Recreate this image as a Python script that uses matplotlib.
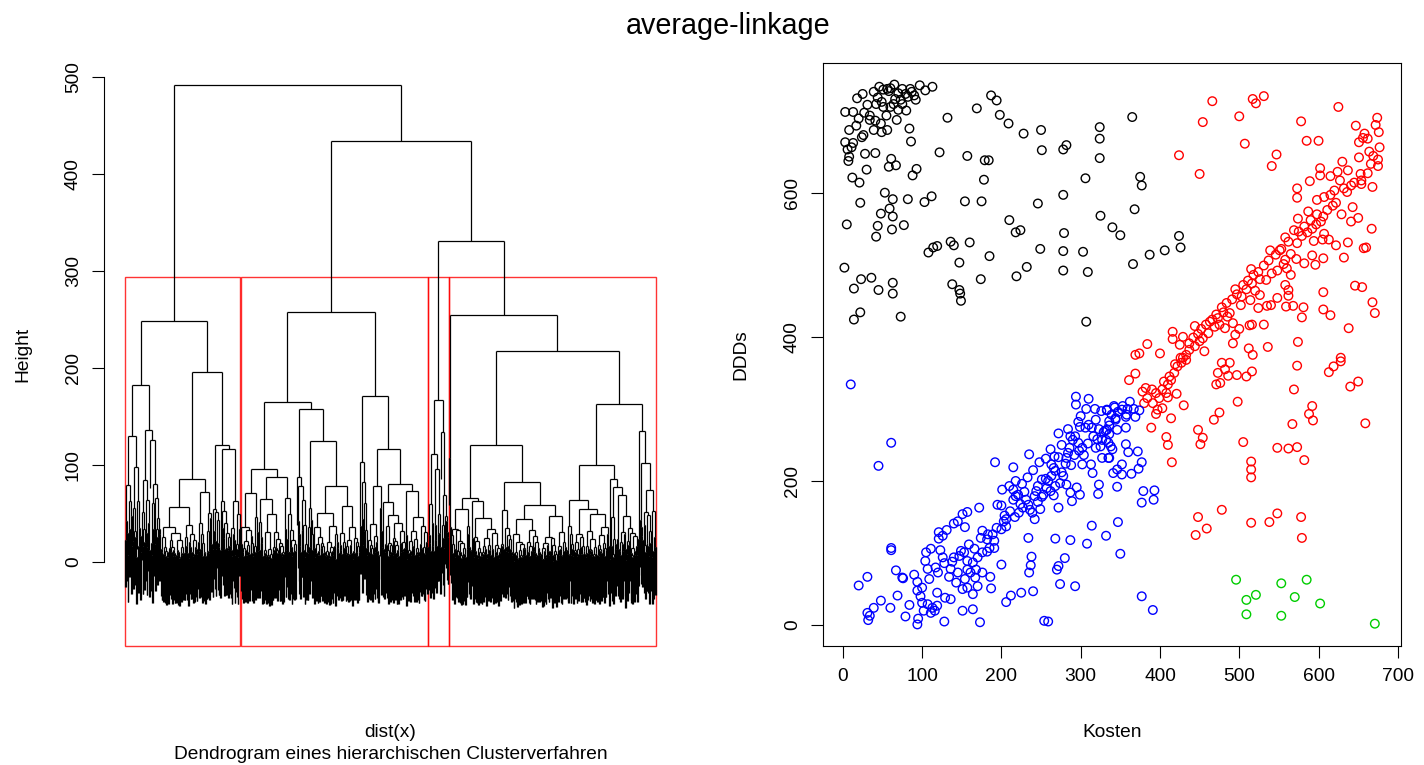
#!/usr/bin/env python3
"""
average-linkage: Dendrogramm (hclust, average) und Streudiagramm Kosten vs. DDDs
"""

import numpy as np
import matplotlib
matplotlib.use("Agg")
import matplotlib.pyplot as plt
from matplotlib.collections import LineCollection
from matplotlib.patches import Rectangle

plt.rcParams['font.family'] = ['Liberation Sans', 'DejaVu Sans']

# (Kosten, DDDs) pro Cluster
cluster_black = [
    (46, 747), (56, 744), (65, 750), (75, 744), (85, 744), (97, 749), (113, 747), (39, 740),
    (25, 737), (18, 731), (51, 743), (58, 741), (70, 738), (79, 737), (87, 740), (82, 733),
    (92, 729), (73, 729), (64, 723), (75, 723), (80, 714), (70, 715), (60, 719), (51, 719),
    (42, 723), (49, 726), (3, 712), (13, 712), (27, 711), (34, 701), (34, 707), (41, 700),
    (48, 696), (55, 707), (68, 701), (17, 693), (8, 687), (3, 670), (13, 669), (24, 677),
    (26, 680), (11, 663), (39, 687), (49, 684), (56, 687), (84, 689), (86, 671), (6, 660),
    (8, 650), (7, 644), (28, 654), (41, 655), (61, 647), (58, 636), (67, 638), (30, 632),
    (93, 633), (88, 624), (12, 621), (21, 614), (122, 656), (132, 704), (169, 717), (187, 735),
    (194, 728), (198, 708), (209, 696), (228, 682), (250, 687), (157, 651), (179, 645), (184, 645),
    (251, 659), (278, 660), (282, 666), (324, 691), (324, 675), (324, 648), (306, 620), (178, 618),
    (53, 600), (63, 591), (59, 578), (48, 571), (22, 586), (82, 591), (103, 587), (112, 595),
    (154, 588), (175, 588), (246, 585), (278, 597), (5, 556), (44, 554), (42, 539), (62, 549),
    (77, 555), (63, 567), (210, 562), (218, 545), (224, 548), (279, 544), (325, 568), (340, 552),
    (350, 541), (249, 522), (278, 519), (303, 518), (108, 517), (114, 524), (119, 526), (136, 532),
    (140, 527), (160, 531), (185, 512), (147, 503), (232, 497), (219, 484), (278, 492), (309, 490),
    (2, 496), (23, 480), (36, 482), (14, 467), (45, 465), (63, 475), (63, 460), (138, 473),
    (147, 465), (148, 460), (149, 450), (174, 480), (14, 424), (22, 434), (73, 428), (307, 421),
    (365, 705), (375, 622), (377, 610), (368, 577), (424, 540), (426, 524), (387, 514), (406, 520),
    (366, 501), (60, 745), (44, 732), (66, 730), (31, 722), (20, 703), (90, 735), (104, 742),
]

cluster_red = [
    (466, 727), (517, 730), (521, 724), (531, 734), (500, 706), (454, 698), (625, 719), (578, 699),
    (647, 693), (674, 704), (672, 694), (676, 684), (658, 682), (656, 676), (662, 675), (651, 670),
    (585, 672), (600, 672), (507, 668), (424, 652), (547, 653), (541, 637), (450, 626), (677, 663),
    (664, 657), (651, 649), (675, 646), (666, 640), (675, 637), (630, 643), (637, 631), (624, 629),
    (602, 634), (602, 624), (589, 616), (615, 623), (627, 617), (641, 610), (654, 617), (662, 627),
    (668, 608), (654, 612), (620, 603), (632, 606), (615, 597), (607, 594), (573, 606), (573, 593),
    (598, 590), (618, 582), (587, 574), (598, 570), (606, 567), (629, 570), (643, 580), (650, 565),
    (641, 560), (667, 550), (574, 564), (582, 553), (590, 562), (592, 550), (603, 560), (575, 546),
    (594, 533), (607, 543), (613, 535), (622, 527), (637, 531), (657, 523), (660, 524), (569, 548),
    (558, 538), (573, 530), (562, 532), (605, 535), (632, 510), (592, 513), (606, 509), (582, 502),
    (596, 500), (539, 520), (551, 520), (565, 515), (558, 507), (572, 508), (548, 492), (556, 501),
    (560, 495), (565, 486), (541, 488), (534, 479), (526, 480), (515, 494), (516, 474), (509, 466),
    (520, 464), (526, 458), (514, 451), (503, 456), (495, 466), (502, 444), (488, 433), (480, 434),
    (473, 426), (469, 414), (463, 421), (461, 405), (454, 398), (450, 394), (444, 387), (437, 382),
    (433, 375), (429, 371), (444, 415), (416, 407), (429, 400), (425, 389), (416, 397), (384, 390),
    (369, 375), (374, 377), (400, 377), (456, 380), (475, 417), (485, 428), (482, 412), (492, 419),
    (495, 403), (492, 391), (500, 411), (513, 416), (516, 417), (531, 417), (512, 384), (517, 375),
    (536, 386), (574, 393), (581, 441), (579, 427), (606, 462), (606, 438), (615, 430), (638, 412),
    (646, 471), (655, 469), (668, 448), (671, 433), (540, 444), (548, 454), (562, 457), (559, 442),
    (568, 443), (558, 472), (562, 465), (535, 443), (524, 440), (628, 371),
    (361, 340), (369, 349), (378, 324), (382, 329), (390, 327), (395, 322), (384, 315), (380, 308),
    (391, 308), (399, 315), (403, 327), (410, 334), (414, 340), (418, 350), (422, 359), (427, 364),
    (433, 368), (408, 322), (410, 316), (421, 321), (397, 299), (403, 301), (395, 293), (389, 274),
    (414, 287), (408, 261), (410, 250), (415, 226), (430, 305), (448, 271), (454, 260), (451, 251),
    (468, 285), (475, 295), (498, 310), (471, 334), (476, 336), (473, 350), (478, 364), (488, 364),
    (482, 355), (486, 346), (497, 347), (509, 345), (516, 352), (505, 254), (515, 227), (515, 216),
    (515, 205), (548, 246), (562, 245), (573, 247), (582, 229), (567, 279), (569, 327), (573, 360),
    (588, 293), (592, 304), (593, 284), (613, 351), (619, 359), (628, 366), (640, 331), (650, 338),
    (659, 280), (478, 160), (448, 150), (459, 134), (445, 125), (515, 142), (538, 143), (548, 155),
    (578, 150), (579, 121),
    (437, 391), (442, 399), (448, 404), (452, 411), (458, 417), (466, 424), (471, 431), (478, 441),
    (484, 447), (491, 452), (497, 459), (505, 472), (511, 478), (518, 486), (524, 490), (531, 499),
    (537, 506), (546, 514), (553, 522), (579, 540), (586, 545), (597, 556), (611, 576), (622, 586),
    (636, 601), (645, 614), (653, 626), (669, 651), (412, 345), (405, 338), (426, 371), (419, 362),
]

cluster_green = [
    (496, 63), (553, 58), (585, 63), (509, 35), (521, 42), (570, 39), (602, 30), (509, 15),
    (553, 13), (671, 2),
]

cluster_blue = [
    (10, 334), (61, 253), (45, 221), (61, 107), (61, 104), (67, 76), (75, 66), (76, 65),
    (69, 41), (31, 67), (20, 55), (48, 34), (39, 24), (31, 17), (34, 13), (32, 7),
    (60, 24), (79, 12), (84, 28), (90, 70), (94, 60), (94, 48), (100, 52), (98, 40),
    (100, 31), (95, 9), (94, 1), (102, 20), (107, 29), (111, 17), (116, 20), (119, 45),
    (129, 38), (136, 36), (128, 5), (105, 101), (104, 89), (107, 78), (117, 80), (109, 64),
    (111, 106), (123, 104), (121, 120), (126, 124), (131, 132), (121, 129), (128, 86), (136, 78),
    (134, 67), (140, 94), (147, 96), (154, 136), (151, 154), (157, 157), (140, 141), (145, 144),
    (172, 163), (159, 112), (166, 106), (153, 101), (157, 89), (164, 87), (170, 94), (176, 101),
    (182, 102), (145, 73), (143, 59), (154, 64), (161, 73), (167, 66), (170, 54), (164, 43),
    (151, 50), (157, 52), (176, 73), (186, 67), (187, 51), (173, 4), (164, 22), (151, 20),
    (176, 131), (182, 119), (189, 126), (194, 135), (200, 133), (206, 137), (191, 117), (191, 107),
    (200, 84), (203, 144), (206, 147), (200, 166), (195, 167), (201, 188), (210, 193), (215, 188),
    (218, 179), (215, 174), (221, 181), (215, 219), (192, 226), (212, 41), (206, 32), (225, 45),
    (240, 47), (234, 121), (238, 95), (237, 83), (235, 73), (222, 156), (227, 163), (234, 167),
    (239, 156), (242, 147), (246, 171), (249, 161), (253, 181), (246, 193), (251, 202), (256, 203),
    (259, 200), (263, 207), (266, 218), (263, 223), (267, 234), (272, 233), (282, 232), (284, 239),
    (290, 257), (293, 262), (299, 275), (306, 274), (297, 253), (302, 246), (302, 223), (313, 223),
    (315, 211), (323, 195), (322, 182), (332, 124), (314, 138), (308, 113), (287, 118), (268, 120),
    (280, 93), (272, 82), (270, 77), (274, 57), (293, 54), (254, 6), (259, 5), (272, 163),
    (266, 180), (268, 193), (282, 195), (287, 184), (289, 172), (295, 191), (299, 181), (278, 207),
    (274, 197), (235, 237), (229, 185), (242, 179), (314, 274), (319, 285), (326, 297), (333, 299),
    (342, 304), (323, 272), (331, 270), (336, 277), (344, 285), (327, 257), (335, 253), (340, 244),
    (325, 248), (319, 246), (310, 278), (327, 232), (335, 232), (294, 317), (294, 306), (310, 314),
    (287, 262), (126, 94), (138, 88), (149, 103), (157, 77), (168, 77), (183, 126), (185, 107),
    (174, 121), (120, 73), (119, 27), (113, 24),
    (362, 310), (374, 298), (367, 300), (359, 300), (352, 299), (343, 302), (333, 298), (344, 287),
    (357, 289), (369, 289), (336, 283), (357, 274), (346, 271), (333, 271), (336, 265), (332, 257),
    (338, 248), (357, 251), (360, 240), (372, 241), (336, 232), (352, 223), (377, 226), (373, 217),
    (364, 210), (352, 209), (341, 211), (346, 216), (346, 192), (379, 186), (393, 187), (392, 174),
    (377, 170), (347, 143), (350, 99), (377, 40), (391, 21),
    (204, 152), (211, 158), (217, 150), (224, 168), (231, 174), (236, 160), (244, 186), (251, 178),
    (257, 190), (262, 186), (268, 214), (276, 212), (281, 224), (288, 222), (292, 236), (298, 242),
    (304, 236), (309, 252), (316, 262), (321, 258), (329, 268), (339, 292), (347, 296), (353, 304),
    (358, 292), (262, 244), (276, 250), (286, 246), (248, 226), (240, 215), (256, 231), (272, 266),
    (284, 272), (300, 290), (307, 300), (318, 300), (297, 282), (233, 205), (226, 196), (218, 200),
]

cluster_colors = ["black", "red", "#00CD00", "blue"]

W, H = 1424, 765


def average_linkage(X):
    """UPGMA wie hclust(method='average'); liefert (a, b, hoehe) je Schritt."""
    n = len(X)
    D = np.sqrt(((X[:, None, :] - X[None, :, :]) ** 2).sum(-1))
    np.fill_diagonal(D, np.inf)
    size = np.ones(n)
    node = np.arange(n)
    merges = []
    for step in range(n - 1):
        i, j = divmod(int(np.argmin(D)), n)
        if i > j:
            i, j = j, i
        merges.append((node[i], node[j], D[i, j]))
        new = (size[i] * D[i] + size[j] * D[j]) / (size[i] + size[j])
        D[i, :] = new
        D[:, i] = new
        D[i, i] = np.inf
        D[j, :] = np.inf
        D[:, j] = np.inf
        size[i] += size[j]
        node[i] = n + step
    return merges


def px_axes(fig, x0, y0, x1, y1):
    return fig.add_axes([x0 / W, 1 - y1 / H, (x1 - x0) / W, (y1 - y0) / H])


groups = [cluster_black, cluster_red, cluster_green, cluster_blue]
X = np.array([p for g in groups for p in g], dtype=float)
point_colors = [c for g, c in zip(groups, cluster_colors) for _ in g]
n = len(X)

merges = average_linkage(X)
heights = np.array([m[2] for m in merges])
hang = 0.1 * (heights.max() - heights.min())

left, right = {}, {}
for s, (a, b, h) in enumerate(merges):
    left[n + s], right[n + s] = min(a, b), max(a, b)

# Blattreihenfolge
order = []
stack = [2 * n - 2]
while stack:
    v = stack.pop()
    if v < n:
        order.append(v)
    else:
        stack.append(right[v])
        stack.append(left[v])

xpos = np.zeros(2 * n - 1)
xpos[np.array(order)] = np.arange(1, n + 1)
lo = xpos.copy()
hi = xpos.copy()
for s in range(n - 1):
    v = n + s
    xpos[v] = (xpos[left[v]] + xpos[right[v]]) / 2
    lo[v] = min(lo[left[v]], lo[right[v]])
    hi[v] = max(hi[left[v]], hi[right[v]])

segs = []
for s, (a, b, h) in enumerate(merges):
    v = n + s
    for c in (left[v], right[v]):
        yc = heights[c - n] if c >= n else h - hang
        segs.append([(xpos[c], yc), (xpos[c], h)])
    segs.append([(xpos[left[v]], h), (xpos[right[v]], h)])

# rect.hclust(k = 4)
k = 4
top = set(range(2 * n - k, 2 * n - 1))
cut_nodes = [c for v in top for c in (left[v], right[v]) if c not in top]
hs = np.sort(heights)[::-1]
cut_h = (hs[k - 2] + hs[k - 1]) / 2

fig = plt.figure(figsize=(W / 100, H / 100), dpi=100)

# --- Dendrogramm ---
ax1 = px_axes(fig, 104, 63, 677, 646)
ax1.add_collection(LineCollection(segs, colors="black", linewidths=0.9))
ext = 0.04 * (n - 1)
ax1.set_xlim(1 - ext, n + ext)
y_bottom = -87
ax1.set_ylim(y_bottom, 514.3)
for c in cut_nodes:
    ax1.add_patch(Rectangle((lo[c] - 0.34, y_bottom), hi[c] - lo[c] + 0.67, cut_h - y_bottom,
                            fill=False, edgecolor=(1, 0, 0, 0.8), linewidth=1.0, clip_on=False))
for side in ("top", "right", "bottom"):
    ax1.spines[side].set_visible(False)
ax1.spines["left"].set_bounds(0, 500)
ax1.set_xticks([])
ax1.set_yticks(range(0, 501, 100))

# --- Streudiagramm ---
ax2 = px_axes(fig, 823, 63, 1401, 646)
ax2.scatter(X[:, 0], X[:, 1], s=38, facecolors="none", edgecolors=point_colors, linewidths=1.0)
xr = X[:, 0].min(), X[:, 0].max()
yr = X[:, 1].min(), X[:, 1].max()
ax2.set_xlim(xr[0] - 0.04 * (xr[1] - xr[0]), xr[1] + 0.04 * (xr[1] - xr[0]))
ax2.set_ylim(yr[0] - 0.04 * (yr[1] - yr[0]), yr[1] + 0.04 * (yr[1] - yr[0]))
ax2.set_xticks(range(0, 701, 100))
ax2.set_yticks(range(0, 601, 200))

for ax in (ax1, ax2):
    ax.tick_params(length=8.4, width=0.8, labelsize=13.8, pad=7.5)
    for t in ax.get_yticklabels():
        t.set_rotation(90)
        t.set_va("center")
    for sp in ax.spines.values():
        sp.set_linewidth(0.8)

fs = 13.8
fig.text(728 / W, 1 - 34 / H, "average-linkage", ha="center", va="baseline", fontsize=20.7)
fig.text(390.5 / W, 1 - 737 / H, "dist(x)", ha="center", va="baseline", fontsize=fs)
fig.text(390.5 / W, 1 - 759 / H, "Dendrogram eines hierarchischen Clusterverfahren",
         ha="center", va="baseline", fontsize=fs)
fig.text(23 / W, 1 - 354.5 / H, "Height", rotation=90, ha="center", va="center", fontsize=fs)
fig.text(1112 / W, 1 - 737 / H, "Kosten", ha="center", va="baseline", fontsize=fs)
fig.text(741 / W, 1 - 354.5 / H, "DDDs", rotation=90, ha="center", va="center", fontsize=fs)

fig.savefig("out.png", dpi=100)
